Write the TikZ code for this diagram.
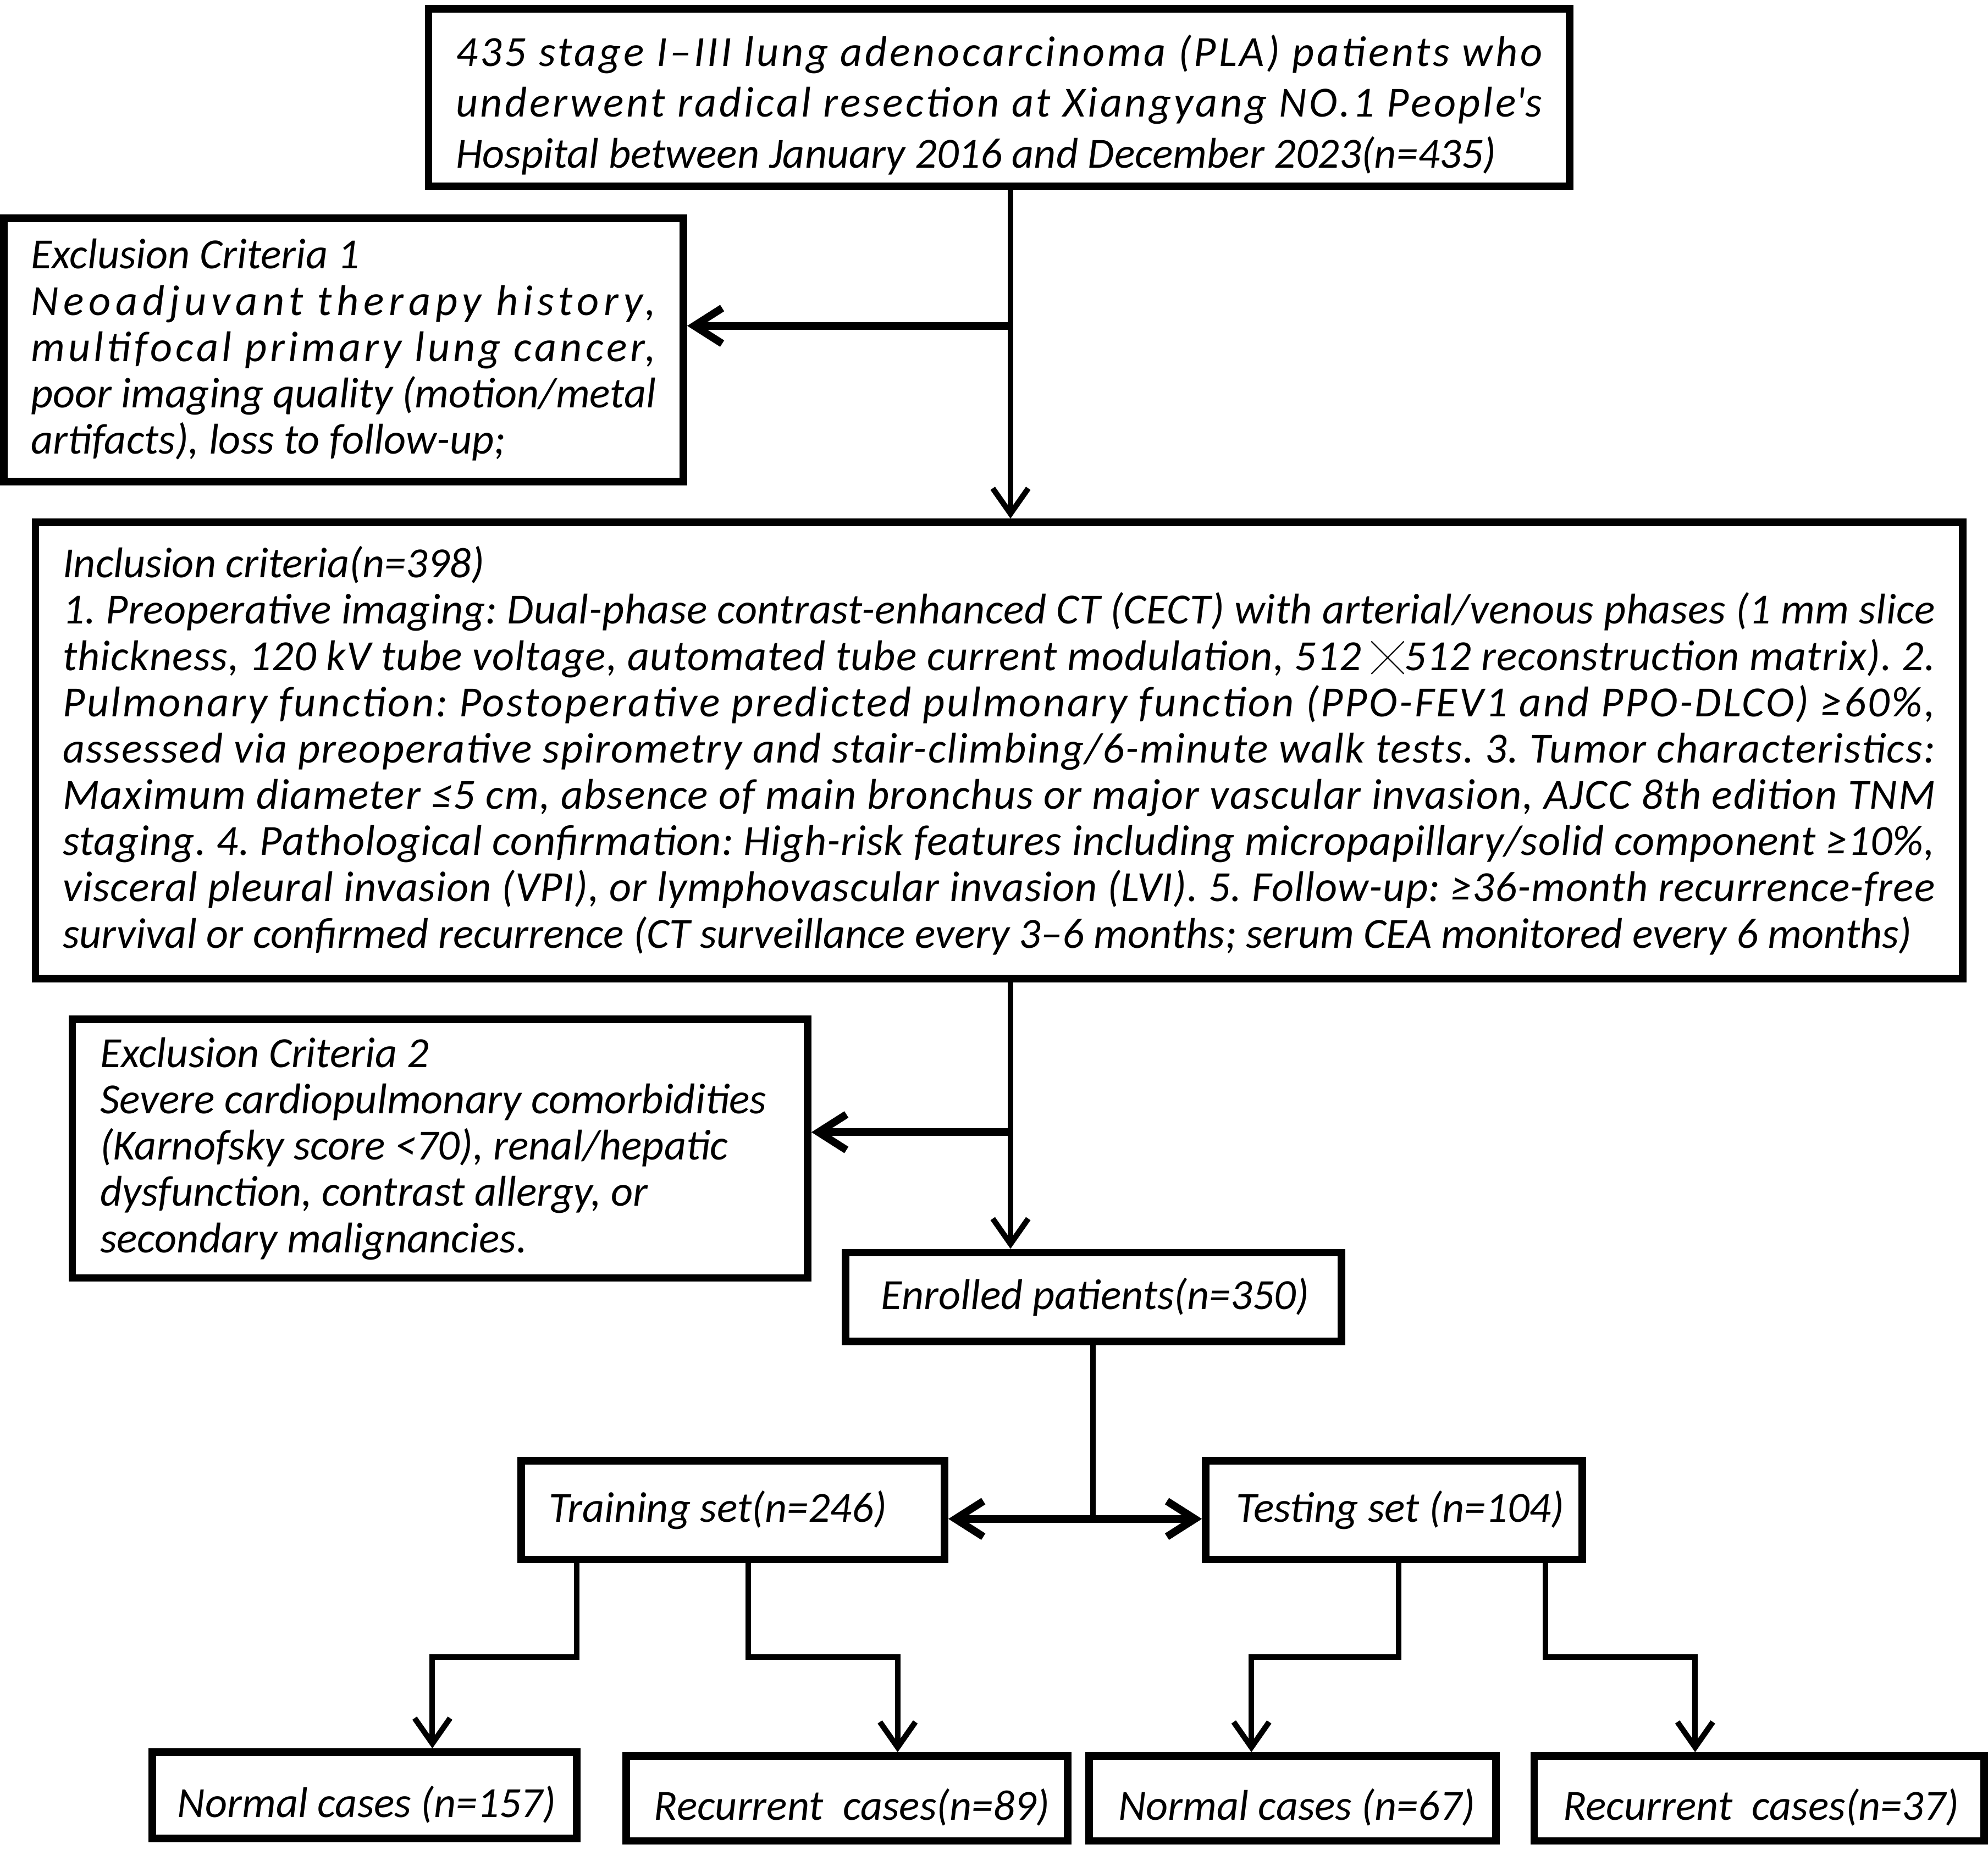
\documentclass[tikz,border=0pt]{standalone}
\usepackage{fontspec}
\setmainfont{Carlito}
\newfontfamily\cjkf{Noto Sans CJK SC}
\usetikzlibrary{arrows.meta}
\newcommand\nsp{\spaceskip=0pt\relax\xspaceskip=0pt\relax}
% justified line: extra width distributed as letter spacing
\newcommand\jl[1]{\ifvmode\noindent\fi
  \setbox0=\hbox{\nsp#1}%
  \setbox2=\hbox{\nsp\addfontfeature{LetterSpace=10}#1}%
  \edef\lsval{\fpeval{max(0,round(10*(\the\hsize-\the\wd0)/(\the\wd2-\the\wd0),3))}}%
  \edef\lscmd{\noexpand\addfontfeature{LetterSpace=\lsval}}%
  \hbox to \hsize{\nsp\lscmd#1}}
\begin{document}
\frenchspacing
\begin{tikzpicture}[x=0.5pt,y=-0.5pt,
  box/.style={draw, line width=3pt, inner xsep=0pt, inner ysep=0pt, align=left,
    font=\fontsize{16.95}{18.25}\selectfont\itshape\frenchspacing},
  topfont/.style={font=\fontsize{16.95}{20}\selectfont\itshape\frenchspacing},
  ln/.style={line width=2.2pt},
  arr/.style={line width=2.2pt, -{Straight Barb[length=10pt,width=14pt]}},
  harr/.style={line width=3pt, -{Straight Barb[length=11pt,width=14pt]}},
]
\useasboundingbox (0,0) rectangle (1568,1459);

% boxes
\node[box, topfont, minimum width=450pt, minimum height=70pt, text width=428.5pt] (top) at (788,77)
 {\nsp\rule{0pt}{18pt}\jl{435 stage I–III lung adenocarcinoma (PLA) patients who}\\
  \jl{underwent radical resection at Xiangyang NO.1 People\textquotesingle s}\\
  \mbox{Hospital between January 2016 and December 2023(n=435)}};

\node[box, minimum width=268pt, minimum height=104pt, text width=246.5pt] (ex1) at (271,276)
 {\nsp Exclusion Criteria 1\\
  \jl{Neoadjuvant therapy history,}\\
  \jl{multifocal primary lung cancer,}\\
  \jl{poor imaging quality (motion/metal}\\
  \mbox{artifacts), loss to follow-up;}};

\node[box, minimum width=760pt, minimum height=180pt, text width=738.5pt] (inc) at (788,592)
 {\nsp Inclusion criteria(n=398)\\
  \jl{1. Preoperative imaging: Dual-phase contrast-enhanced CT (CECT) with arterial/venous phases (1 mm slice}\\
  \jl{thickness, 120 kV tube voltage, automated tube current modulation, 512 {\cjkf\upshape\fontsize{13}{13}\selectfont ╳}512 reconstruction matrix). 2.}\\
  \jl{Pulmonary function: Postoperative predicted pulmonary function (PPO-FEV1 and PPO-DLCO) ≥60\%,}\\
  \jl{assessed via preoperative spirometry and stair-climbing/6-minute walk tests. 3. Tumor characteristics:}\\
  \jl{Maximum diameter ≤5 cm, absence of main bronchus or major vascular invasion, AJCC 8th edition TNM}\\
  \jl{staging. 4. Pathological confirmation: High-risk features including micropapillary/solid component ≥10\%,}\\
  \jl{visceral pleural invasion (VPI), or lymphovascular invasion (LVI). 5. Follow-up: ≥36-month recurrence-free}\\
  \mbox{survival or confirmed recurrence (CT surveillance every 3–6 months; serum CEA monitored every 6 months)}};

\node[box, minimum width=290pt, minimum height=102pt, text width=268pt] (ex2) at (347,906)
 {\nsp Exclusion Criteria 2\\
  Severe cardiopulmonary comorbidities\\
  (Karnofsky score <70), renal/hepatic\\
  dysfunction, contrast allergy, or\\
  secondary malignancies.};

\node[box, minimum width=195.5pt, minimum height=35pt, text width=167.5pt] (enr) at (862.5,1023)
 {\nsp\mbox{Enrolled patients(n=350)}};

\node[box, minimum width=167pt, minimum height=39pt, text width=145pt] (train) at (578,1191)
 {\nsp\mbox{Training set(n=246)}};
\node[box, minimum width=148.5pt, minimum height=39pt, text width=124.5pt] (test) at (1099.5,1191)
 {\nsp\mbox{Testing set (n=104)}};

\node[box, minimum width=167.5pt, minimum height=34pt, text width=147.5pt] (n1) at (287.5,1416)
 {\nsp\rule{0pt}{19.5pt}\mbox{Normal cases (n=157)}};
\node[box, minimum width=174pt, minimum height=33.5pt, text width=152pt] (r1) at (668,1418.5)
 {\nsp\rule{0pt}{19.5pt}\mbox{Recurrent\ \ cases(n=89)}};
\node[box, minimum width=160.5pt, minimum height=33.5pt, text width=137.5pt] (n2) at (1019.5,1418.5)
 {\nsp\rule{0pt}{19.5pt}\mbox{Normal cases (n=67)}};
\node[box, minimum width=177.5pt, minimum height=33.5pt, text width=154.5pt] (r2) at (1387.5,1418.5)
 {\nsp\rule{0pt}{19.5pt}\mbox{Recurrent\ \ cases(n=37)}};

% junction coordinates
\coordinate (c1) at (797,257);
\coordinate (c2) at (797,893);
\coordinate (c3) at (862,1198);
\coordinate (ta) at (455,1307);
\coordinate (tb) at (341,1307);
\coordinate (tc) at (590,1307);
\coordinate (td) at (708,1307);
\coordinate (sa) at (1103,1307);
\coordinate (sb) at (987,1307);
\coordinate (sc) at (1219,1307);
\coordinate (sd) at (1337,1307);

% connectors
\draw[arr] (top.south -| c1) -- (inc.north -| c1);
\draw[harr] (c1) -- (ex1.east |- c1);
\draw[arr] (inc.south -| c2) -- (enr.north -| c2);
\draw[harr] (c2) -- (ex2.east |- c2);
\draw[ln] (enr.south -| c3) -- (c3);
\draw[harr] (c3) -- (train.east |- c3);
\draw[harr] (c3) -- (test.west |- c3);

\draw[arr] (train.south -| ta) -- (ta) -- (tb) -- (n1.north -| tb);
\draw[arr] (train.south -| tc) -- (tc) -- (td) -- (r1.north -| td);
\draw[arr] (test.south -| sa) -- (sa) -- (sb) -- (n2.north -| sb);
\draw[arr] (test.south -| sc) -- (sc) -- (sd) -- (r2.north -| sd);
\end{tikzpicture}
\end{document}
